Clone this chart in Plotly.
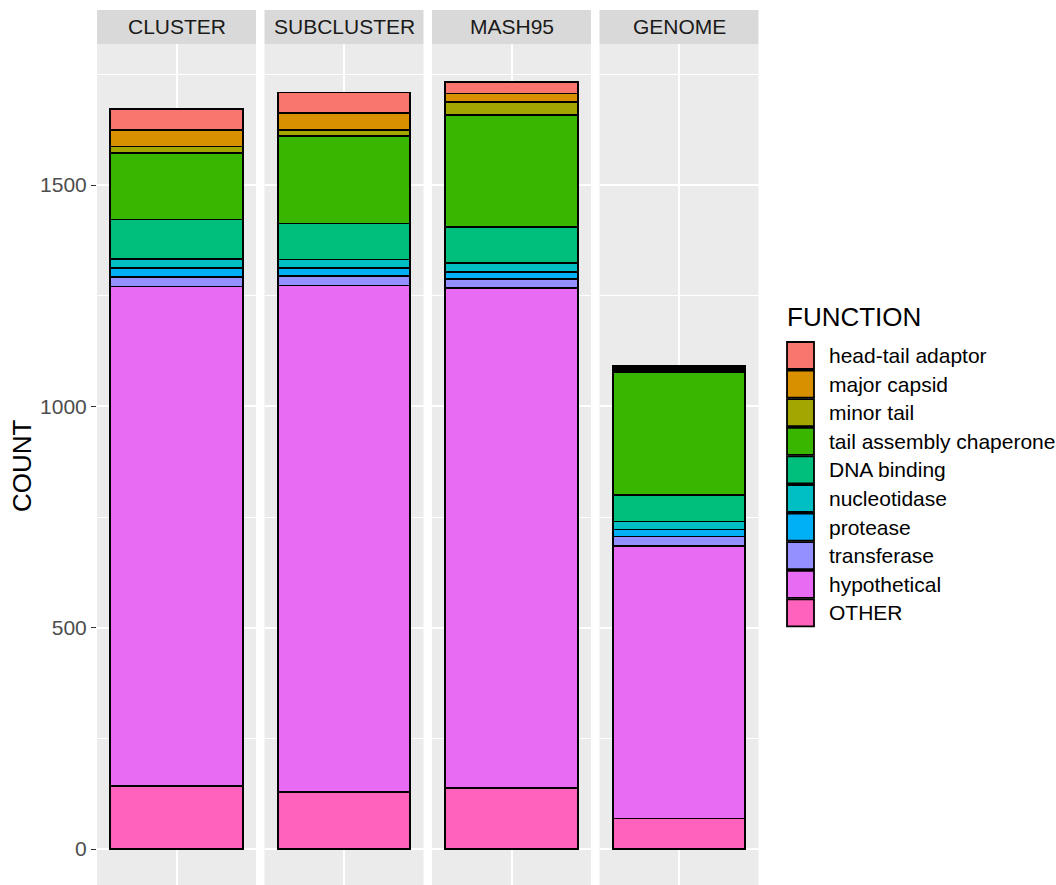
import plotly.graph_objects as go

# Facets (one panel each) and functional categories, in legend order (top of stack first)
facets = ["CLUSTER", "SUBCLUSTER", "MASH95", "GENOME"]
functions = [
    "head-tail adaptor", "major capsid", "minor tail", "tail assembly chaperone",
    "DNA binding", "nucleotidase", "protease", "transferase", "hypothetical", "OTHER",
]
colors = [
    "#F8766D", "#D89000", "#A3A500", "#39B600", "#00BF7D",
    "#00BFC4", "#00B0F6", "#9590FF", "#E76BF3", "#FF62BC",
]

# Counts per function, one value per facet (CLUSTER, SUBCLUSTER, MASH95, GENOME)
head_tail_adaptor = [46, 47, 25, 4]
major_capsid = [38, 37, 19, 4]
minor_tail = [14, 14, 30, 5]
tail_assembly_chaperone = [151, 198, 253, 278]
dna_binding = [89, 81, 82, 60]
nucleotidase = [20, 20, 20, 18]
protease = [20, 18, 15, 16]
transferase = [22, 21, 20, 22]
hypothetical = [1128, 1144, 1130, 615]
other = [143, 129, 138, 69]

counts = [
    head_tail_adaptor, major_capsid, minor_tail, tail_assembly_chaperone,
    dna_binding, nucleotidase, protease, transferase, hypothetical, other,
]

y_ticks = [0, 500, 1000, 1500]

W, H = 1056, 885
FONT = "Liberation Sans, Arial, Helvetica, sans-serif"
OUTLINE = 1.8


def px_x(v):
    return v / W


def px_y(v):
    return 1 - v / H


panel_left = [97, 264.5, 432, 599.5]
panel_w = 159
strip_top, strip_bot = 10, 44

fig = go.Figure()

# Stack from the bottom up: OTHER first, head-tail adaptor last
for fi, facet in enumerate(facets):
    ax = "" if fi == 0 else str(fi + 1)
    for k in range(len(functions) - 1, -1, -1):
        fig.add_trace(go.Bar(
            x=[1], y=[counts[k][fi]], width=1.0,
            name=functions[k],
            marker=dict(color=colors[k], line=dict(color="black", width=OUTLINE)),
            xaxis="x" + ax, yaxis="y" + ax,
            showlegend=False,
            hovertemplate=facet + "<br>" + functions[k] + ": %{y}<extra></extra>",
        ))

layout = dict(
    width=W, height=H,
    margin=dict(l=0, r=0, t=0, b=0),
    paper_bgcolor="white",
    plot_bgcolor="#EBEBEB",
    barmode="stack",
    showlegend=False,
    font=dict(family=FONT, size=21, color="#1A1A1A"),
)

y_range = [-81.2, 1818.6]
y_dom = [0, px_y(strip_bot)]

for fi in range(len(facets)):
    ax = "" if fi == 0 else str(fi + 1)
    x0 = px_x(panel_left[fi])
    x1 = px_x(panel_left[fi] + panel_w)
    layout["xaxis" + ax] = dict(
        domain=[x0, x1], range=[0.4, 1.6], anchor="y" + ax,
        tickvals=[1], showticklabels=False, ticks="",
        showgrid=True, gridcolor="white", gridwidth=1.7,
        zeroline=False, showline=False, fixedrange=True,
    )
    yax = dict(
        domain=y_dom, range=y_range, anchor="x" + ax,
        tickvals=y_ticks,
        showgrid=True, gridcolor="white", gridwidth=1.7,
        minor=dict(dtick=250, tick0=0, showgrid=True, gridcolor="white", gridwidth=0.9),
        zeroline=False, showline=False, fixedrange=True,
    )
    if fi == 0:
        yax.update(
            ticks="outside", ticklen=5, tickwidth=1.4, tickcolor="#333333",
            tickfont=dict(size=21, color="#4D4D4D"),
        )
    else:
        yax.update(matches="y", showticklabels=False, ticks="")
    layout["yaxis" + ax] = yax

fig.update_layout(**layout)

shapes = []
annotations = []

# Facet strips
for fi, facet in enumerate(facets):
    x0 = px_x(panel_left[fi])
    x1 = px_x(panel_left[fi] + panel_w)
    shapes.append(dict(
        type="rect", xref="paper", yref="paper",
        x0=x0, x1=x1, y0=px_y(strip_bot), y1=px_y(strip_top),
        fillcolor="#D9D9D9", line=dict(width=0), layer="below",
    ))
    annotations.append(dict(
        text=facet, xref="paper", yref="paper",
        x=(x0 + x1) / 2, y=px_y((strip_top + strip_bot) / 2),
        xanchor="center", yanchor="middle", showarrow=False,
        font=dict(size=21, color="#1A1A1A"),
    ))

# Axis title
annotations.append(dict(
    text="COUNT", xref="paper", yref="paper",
    x=px_x(22), y=px_y(466), textangle=-90,
    xanchor="center", yanchor="middle", showarrow=False,
    font=dict(size=26, color="black"),
))

# Legend
leg_x = 787
key_w, key_h, key_step = 27, 27, 28.6
key_top0 = 342
annotations.append(dict(
    text="FUNCTION", xref="paper", yref="paper",
    x=px_x(leg_x - 2), y=px_y(317),
    xanchor="left", yanchor="middle", showarrow=False,
    font=dict(size=26, color="black"),
))
for k, fn in enumerate(functions):
    top = key_top0 + k * key_step
    shapes.append(dict(
        type="rect", xref="paper", yref="paper",
        x0=px_x(leg_x), x1=px_x(leg_x + key_w),
        y0=px_y(top + key_h), y1=px_y(top),
        fillcolor=colors[k], line=dict(color="black", width=OUTLINE),
    ))
    annotations.append(dict(
        text=fn, xref="paper", yref="paper",
        x=px_x(leg_x + 40), y=px_y(top + key_h / 2),
        xanchor="left", yanchor="middle", showarrow=False,
        font=dict(size=21, color="black"),
    ))

fig.update_layout(shapes=shapes, annotations=annotations)

fig.write_html("out.html")
